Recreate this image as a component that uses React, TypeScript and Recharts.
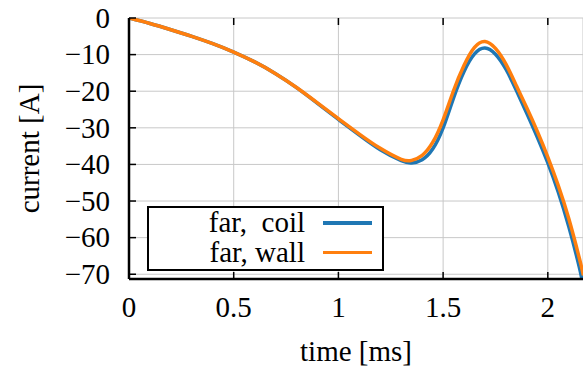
import React from 'react';
import { LineChart, Line, XAxis, YAxis, CartesianGrid, Legend } from 'recharts';

// time [ms]
const times = [
  0, 0.1, 0.2, 0.3, 0.4, 0.5, 0.6, 0.7, 0.8, 0.9, 1.0, 1.1, 1.2, 1.3, 1.35, 1.4, 1.45, 1.5, 1.55,
  1.6, 1.65, 1.7, 1.75, 1.8, 1.85, 1.9, 1.95, 2.0, 2.05, 2.1, 2.15, 2.17,
];
// current [A]
const farCoil = [
  0, -1.5, -3.2, -5.0, -7.0, -9.3, -12.0, -15.2, -19.0, -23.3, -27.7, -32.0, -36.0, -39.0, -39.6,
  -38.7, -35.8, -30.0, -21.8, -14.6, -9.8, -8.2, -9.9, -14.0, -19.8, -26.1, -32.6, -39.6, -47.6,
  -57.0, -68.0, -73.5,
];
const farWall = [
  0, -1.5, -3.2, -5.0, -7.0, -9.3, -12.0, -15.2, -19.0, -23.2, -27.5, -31.7, -35.6, -38.6, -38.9,
  -37.5, -34.0, -27.8, -19.8, -12.9, -8.0, -6.4, -8.3, -12.6, -18.5, -24.6, -31.0, -38.0, -45.8,
  -54.8, -65.5, -70.3,
];
const xTicks = [0, 0.5, 1, 1.5, 2];
const yTicks = [0, -10, -20, -30, -40, -50, -60, -70];
const seriesNames = ['far,  coil', 'far, wall'];

const data = times.map((t, i) => ({ t, coil: farCoil[i], wall: farWall[i] }));

const FONT = "'Liberation Serif', 'Times New Roman', serif";
const FS = 29;
const TOP = 18;
const Y_GAP = 19;
const TICK_LEN = 7;

const fmtY = (v: number) => (v === 0 ? '0' : '\u2212' + Math.abs(v));

const YTick = (props: any) => {
  const { x, y, payload } = props;
  const left = x + Y_GAP;
  return (
    <g>
      <line x1={left} x2={left + TICK_LEN} y1={y} y2={y} stroke="#000" strokeWidth={1.5} />
      <text x={x} y={y} dy={9.7} textAnchor="end" fontFamily={FONT} fontSize={FS} fill="#000">
        {fmtY(payload.value)}
      </text>
    </g>
  );
};

const XTick = (props: any) => {
  const { x, y, payload } = props;
  return (
    <g>
      <line x1={x} x2={x} y1={y} y2={y - TICK_LEN} stroke="#000" strokeWidth={1.5} />
      <line x1={x} x2={x} y1={TOP} y2={TOP + TICK_LEN} stroke="#000" strokeWidth={1.5} />
      <text x={x} y={y + 38} textAnchor="middle" fontFamily={FONT} fontSize={FS} fill="#000">
        {String(payload.value)}
      </text>
    </g>
  );
};

const renderLegend = (props: any) => {
  const { payload } = props;
  return (
    <div
      style={{
        boxSizing: 'border-box',
        width: 237,
        height: 65,
        border: '2px solid #000',
        background: '#fff',
        fontFamily: FONT,
        fontSize: FS,
        lineHeight: '29.5px',
        color: '#000',
      }}
    >
      {(payload || []).map((entry: any) => (
        <div key={entry.value} style={{ display: 'flex', alignItems: 'center', height: 29.5 }}>
          <span style={{ width: 156, textAlign: 'right', whiteSpace: 'pre' }}>{entry.value}</span>
          <span style={{ width: 49, height: 3.5, marginLeft: 18, background: entry.color }} />
        </div>
      ))}
    </div>
  );
};

export default function App() {
  return (
    <div style={{ position: 'absolute', left: 0, top: 0, background: '#fff' }}>
      <LineChart width={583} height={374} data={data} margin={{ top: TOP, right: 0, bottom: 0, left: 0 }}>
        <CartesianGrid stroke="#c8c8c8" strokeWidth={1} />
        <XAxis
          dataKey="t"
          type="number"
          domain={[0, 2.168]}
          allowDataOverflow
          ticks={xTicks}
          height={95}
          tickSize={0}
          tickMargin={0}
          tick={<XTick />}
          axisLine={{ stroke: '#000', strokeWidth: 2.5 }}
          label={(p: any) => {
            const vb = p.viewBox || {};
            return (
              <text x={vb.x + vb.width / 2} y={361} textAnchor="middle" fontFamily={FONT} fontSize={FS} fill="#000">
                time [ms]
              </text>
            );
          }}
        />
        <XAxis
          xAxisId="top"
          orientation="top"
          dataKey="t"
          type="number"
          domain={[0, 2.168]}
          allowDataOverflow
          height={0}
          tick={false}
          tickLine={false}
          axisLine={{ stroke: '#000', strokeWidth: 2 }}
        />
        <YAxis
          type="number"
          domain={[-71.3, 0]}
          allowDataOverflow
          ticks={yTicks}
          width={129}
          tickSize={0}
          tickMargin={Y_GAP}
          tick={<YTick />}
          axisLine={{ stroke: '#000', strokeWidth: 2.5 }}
          label={(p: any) => {
            const vb = p.viewBox || {};
            const cy = vb.y + vb.height / 2;
            return (
              <text
                x={39}
                y={cy}
                transform={`rotate(-90, 39, ${cy})`}
                textAnchor="middle"
                fontFamily={FONT}
                fontSize={FS}
                fill="#000"
              >
                current [A]
              </text>
            );
          }}
        />
        <Legend
          layout="vertical"
          align="center"
          verticalAlign="middle"
          wrapperStyle={{ left: 147, top: 206, width: 237, height: 65 }}
          content={renderLegend}
        />
        <Line
          type="natural"
          dataKey="coil"
          name={seriesNames[0]}
          stroke="#1f77b4"
          strokeWidth={3.5}
          dot={false}
          isAnimationActive={false}
        />
        <Line
          type="natural"
          dataKey="wall"
          name={seriesNames[1]}
          stroke="#ff7f0e"
          strokeWidth={3.5}
          dot={false}
          isAnimationActive={false}
        />
      </LineChart>
    </div>
  );
}
